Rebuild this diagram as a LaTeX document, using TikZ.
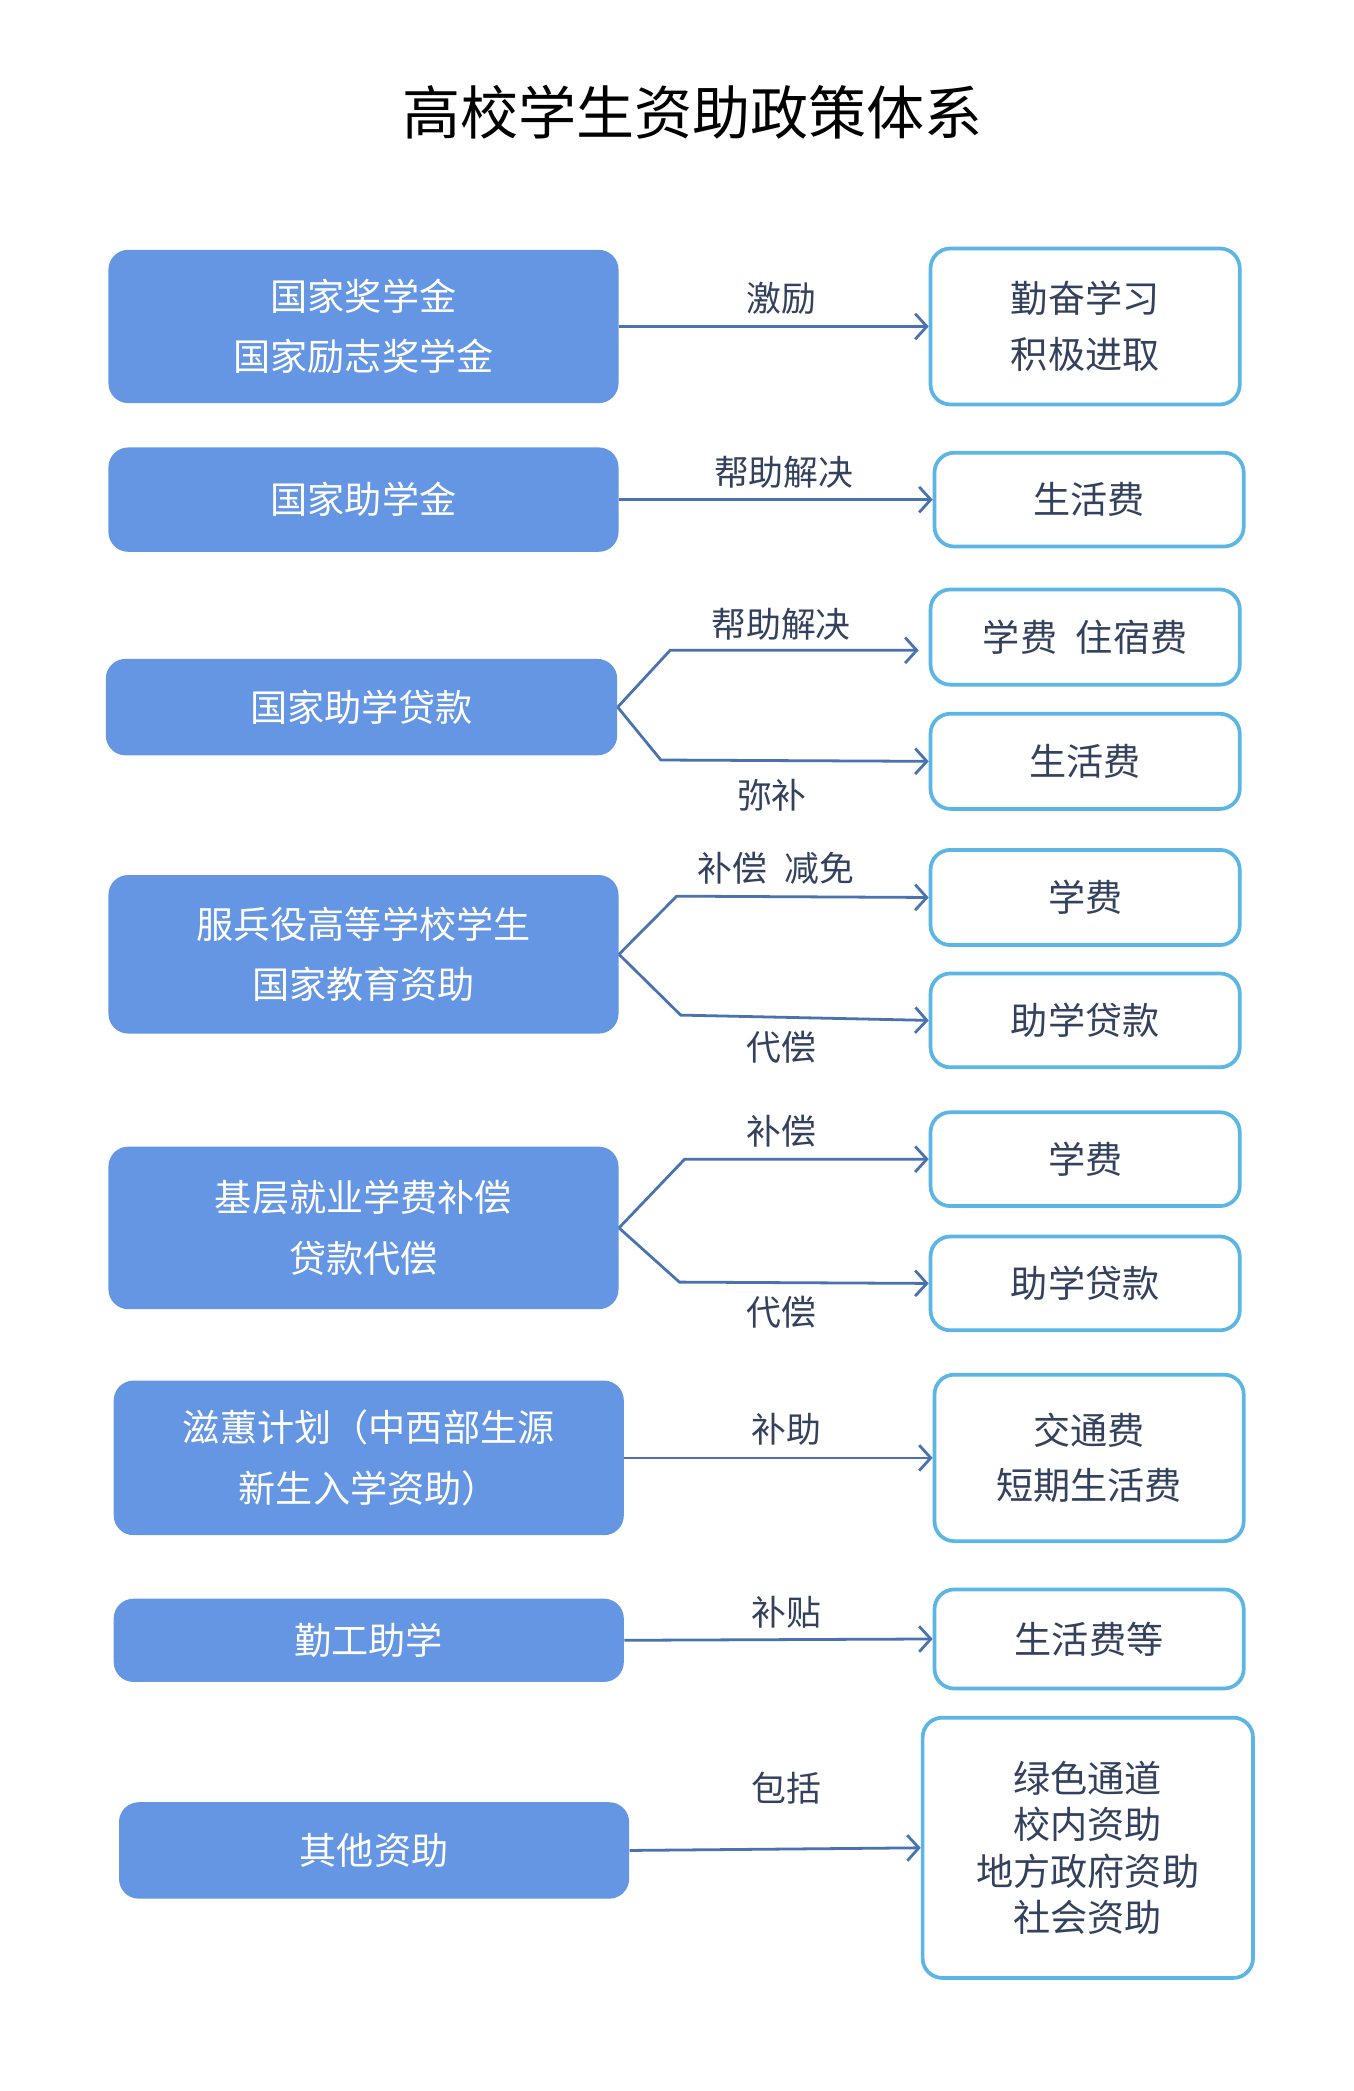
\documentclass[tikz,border=0pt]{standalone}
\usepackage{fontspec}
\setmainfont{Noto Sans CJK SC}
\usetikzlibrary{arrows.meta}
\definecolor{lfill}{HTML}{6496E3}
\definecolor{rline}{HTML}{5BB5E5}
\definecolor{arr}{HTML}{4A72B0}
\definecolor{rtxt}{HTML}{33415E}
\begin{document}
\begin{tikzpicture}[x=0.02cm,y=-0.02cm,
  lbox/.style={fill=lfill,draw=none,rounded corners=0.3cm,text=white,font=\fontsize{16}{26}\selectfont,align=center,inner sep=0pt},
  rbox/.style={fill=white,draw=rline,line width=1.6pt,rounded corners=0.3cm,text=rtxt,font=\fontsize{16}{24}\selectfont,align=center,inner sep=0pt},
  lab/.style={text=rtxt,font=\fontsize{15}{18}\selectfont},
  ar/.style={draw=arr,line width=1.2pt,-{Straight Barb[length=5pt,width=11pt,line width=1.2pt]}}]
\useasboundingbox (0,0) rectangle (1024,1582);
\node[font=\fontsize{25}{30}\selectfont] (title) at (524,85) {高校学生资助政策体系};
% left boxes
\node[lbox,minimum width=7.72cm,minimum height=2.32cm] (L1) at (275,247) {国家奖学金\\国家励志奖学金};
\node[lbox,minimum width=7.72cm,minimum height=1.58cm] (L2) at (275,378) {国家助学金};
\node[lbox,minimum width=7.74cm,minimum height=1.46cm] (L3) at (273.5,535) {国家助学贷款};
\node[lbox,minimum width=7.72cm,minimum height=2.4cm] (L4) at (275,722) {服兵役高等学校学生\\国家教育资助};
\node[lbox,minimum width=7.72cm,minimum height=2.46cm] (L5) at (275,929) {基层就业学费补偿\\贷款代偿};
\node[lbox,minimum width=7.72cm,minimum height=2.34cm] (L6) at (279,1103) {滋蕙计划（中西部生源\\新生入学资助）};
\node[lbox,minimum width=7.72cm,minimum height=1.26cm] (L7) at (279,1241) {勤工助学};
\node[lbox,minimum width=7.72cm,minimum height=1.46cm] (L8) at (283,1400) {其他资助};
% right boxes
\node[rbox,minimum width=4.68cm,minimum height=2.36cm] (R1) at (821,247) {勤奋学习\\积极进取};
\node[rbox,minimum width=4.68cm,minimum height=1.42cm] (R2) at (824,378) {生活费};
\node[rbox,minimum width=4.68cm,minimum height=1.44cm] (R3a) at (821,482) {学费\enspace 住宿费};
\node[rbox,minimum width=4.68cm,minimum height=1.44cm] (R3b) at (821,576) {生活费};
\node[rbox,minimum width=4.68cm,minimum height=1.44cm] (R4a) at (821,679) {学费};
\node[rbox,minimum width=4.68cm,minimum height=1.42cm] (R4b) at (821,772) {助学贷款};
\node[rbox,minimum width=4.68cm,minimum height=1.42cm] (R5a) at (821,877) {学费};
\node[rbox,minimum width=4.68cm,minimum height=1.42cm] (R5b) at (821,971) {助学贷款};
\node[rbox,minimum width=4.68cm,minimum height=2.52cm] (R6) at (824,1103) {交通费\\短期生活费};
\node[rbox,minimum width=4.68cm,minimum height=1.5cm] (R7) at (824,1240) {生活费等};
\node[rbox,minimum width=5.0cm,minimum height=3.94cm,font=\fontsize{16}{20}\selectfont] (R8) at (823,1398) {绿色通道\\校内资助\\地方政府资助\\社会资助};
% bend points
\coordinate (b3a) at (507,492); \coordinate (b3b) at (500,575);
\coordinate (b4a) at (512,678); \coordinate (b4b) at (515,768);
\coordinate (b5a) at (518,877); \coordinate (b5b) at (514,970);
% connectors
\draw[ar] (L1.east) -- (R1.west);
\draw[ar] (L2.east) -- (R2.west);
\draw[ar] (L3.east) -- (b3a) -- (695,492) coordinate (e3a);
\draw[ar] (L3.east) -- (b3b) -- (R3b.west);
\draw[ar] (L4.east) -- (b4a) -- (R4a.west);
\draw[ar] (L4.east) -- (b4b) -- (R4b.west);
\draw[ar] (L5.east) -- (b5a) -- (R5a.west);
\draw[ar] (L5.east) -- (b5b) -- (R5b.west);
\draw[ar] (L6.east) -- (R6.west);
\draw[ar] (L7.east) -- (R7.west);
\draw[ar] (L8.east) -- (R8.west);
% labels
\node[lab] (t1) at (591,226) {激励};
\node[lab] (t2) at (593,357) {帮助解决};
\node[lab] (t3a) at (591,472) {帮助解决};
\node[lab] (t3b) at (584,602) {弥补};
\node[lab] (t4a) at (587,657) {补偿\enspace 减免};
\node[lab] (t4b) at (591,792) {代偿};
\node[lab] (t5a) at (591,856) {补偿};
\node[lab] (t5b) at (591,993) {代偿};
\node[lab] (t6) at (595,1081) {补助};
\node[lab] (t7) at (595,1220) {补贴};
\node[lab] (t8) at (595,1353) {包括};
\end{tikzpicture}
\end{document}
